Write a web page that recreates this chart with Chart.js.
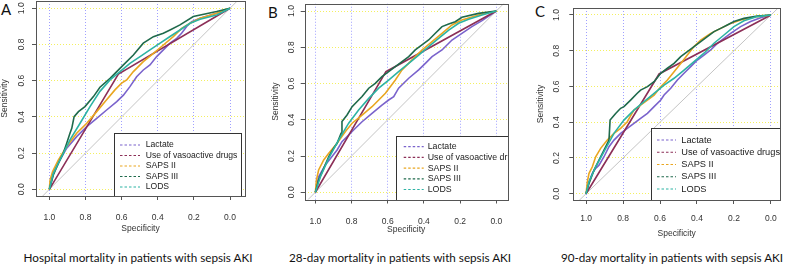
<!DOCTYPE html>
<html>
<head>
<meta charset="utf-8">
<script src="https://cdn.jsdelivr.net/npm/chart.js@4/dist/chart.umd.min.js"></script>
<style>
  body { margin: 0; background: #fff; width: 786px; height: 270px; overflow: hidden; position: relative; }
  canvas { position: absolute; top: 0; }
  .caption { position: absolute; width: 262px; text-align: center; font-family: Lato, sans-serif; font-size: 11.7px; color: #111; top: 250px; white-space: nowrap; }
  .letter { position: absolute; font-family: Lato, sans-serif; font-size: 15px; color: #111; top: 0px; }
</style>
</head>
<body>
<div class="letter" id="letter0" style="left:1px"></div>
<div class="letter" id="letter1" style="left:268px;top:3px"></div>
<div class="letter" id="letter2" style="left:535px;top:2px"></div>
<canvas id="chart0" width="262" height="240" style="left:0px"></canvas>
<canvas id="chart1" width="262" height="240" style="left:262px"></canvas>
<canvas id="chart2" width="262" height="240" style="left:524px"></canvas>
<div class="caption" id="caption0" style="left:7px"></div>
<div class="caption" id="caption1" style="left:269px"></div>
<div class="caption" id="caption2" style="left:541px"></div>
<script>
// ROC curves, points are [specificity, sensitivity]
var panelLetters = ['A', 'B', 'C']
var panelTitles = ['Hospital mortality in patients with sepsis AKI',
    '28-day mortality in patients with sepsis AKI',
    '90-day mortality in patients with sepsis AKI']
var seriesNames = ['Lactate', 'Use of vasoactive drugs', 'SAPS II', 'SAPS III', 'LODS']
var seriesColors = ['#7a63cc', '#8c2f57', '#e9a620', '#1f6a4c', '#2db3a4']
var tickValues = [0, 0.2, 0.4, 0.6, 0.8, 1.0]
var chanceLine = [[1.2, -0.2], [-0.2, 1.2]]

// hospital mortality
var hospLactate = [[1, 0], [0.978, 0.088], [0.941, 0.162], [0.904, 0.227], [0.849, 0.291], [0.793, 0.346], [0.738, 0.392], [0.683, 0.438], [0.627, 0.484], [0.59, 0.52], [0.554, 0.567], [0.517, 0.622], [0.48, 0.659], [0.443, 0.687], [0.406, 0.733], [0.369, 0.77], [0.332, 0.807], [0.295, 0.834], [0.268, 0.862], [0.24, 0.899], [0.212, 0.926], [0.166, 0.945], [0.074, 0.972], [0, 1]]
var hospVaso = [[1, 0], [0.618, 0.637], [0, 1]]
var hospSaps2 = [[1, 0], [0.996, 0.052], [0.982, 0.098], [0.95, 0.162], [0.904, 0.236], [0.849, 0.31], [0.793, 0.365], [0.738, 0.429], [0.683, 0.494], [0.637, 0.549], [0.6, 0.586], [0.572, 0.604], [0.535, 0.65], [0.48, 0.705], [0.424, 0.751], [0.369, 0.797], [0.314, 0.843], [0.268, 0.889], [0.221, 0.917], [0.166, 0.945], [0.074, 0.972], [0, 1]]
var hospSaps3 = [[1, 0], [0.978, 0.079], [0.95, 0.144], [0.923, 0.199], [0.904, 0.254], [0.886, 0.309], [0.876, 0.337], [0.863, 0.401], [0.839, 0.429], [0.803, 0.457], [0.756, 0.512], [0.72, 0.564], [0.664, 0.613], [0.627, 0.65], [0.59, 0.687], [0.535, 0.742], [0.48, 0.807], [0.424, 0.843], [0.369, 0.862], [0.332, 0.88], [0.277, 0.908], [0.203, 0.954], [0.074, 0.982], [0, 1]]
var hospLods = [[1, 0], [0.978, 0.088], [0.932, 0.18], [0.886, 0.273], [0.83, 0.365], [0.775, 0.457], [0.72, 0.541], [0.664, 0.604], [0.609, 0.65], [0.554, 0.696], [0.498, 0.733], [0.443, 0.77], [0.387, 0.807], [0.332, 0.844], [0.277, 0.88], [0.221, 0.917], [0.166, 0.939], [0.074, 0.963], [0, 1]]

// 28-day mortality
var d28Lactate = [[1, 0], [0.982, 0.086], [0.945, 0.151], [0.908, 0.197], [0.88, 0.233], [0.853, 0.279], [0.816, 0.316], [0.779, 0.353], [0.742, 0.389], [0.687, 0.435], [0.632, 0.481], [0.595, 0.509], [0.567, 0.527], [0.54, 0.574], [0.484, 0.629], [0.429, 0.675], [0.392, 0.711], [0.355, 0.748], [0.3, 0.785], [0.245, 0.84], [0.19, 0.877], [0.135, 0.914], [0.079, 0.947], [0, 1]]
var d28Vaso = [[1, 0], [0.61, 0.665], [0, 1]]
var d28Saps2 = [[1, 0], [0.994, 0.068], [0.982, 0.123], [0.954, 0.178], [0.926, 0.215], [0.88, 0.27], [0.834, 0.335], [0.797, 0.381], [0.742, 0.426], [0.687, 0.472], [0.65, 0.509], [0.613, 0.546], [0.586, 0.582], [0.558, 0.619], [0.521, 0.675], [0.466, 0.73], [0.411, 0.785], [0.355, 0.831], [0.3, 0.877], [0.245, 0.923], [0.19, 0.95], [0.098, 0.978], [0, 1]]
var d28Saps3 = [[1, 0], [0.982, 0.068], [0.954, 0.132], [0.926, 0.197], [0.899, 0.243], [0.88, 0.27], [0.858, 0.325], [0.853, 0.39], [0.825, 0.426], [0.797, 0.472], [0.761, 0.509], [0.742, 0.528], [0.705, 0.574], [0.669, 0.601], [0.632, 0.638], [0.595, 0.665], [0.558, 0.693], [0.521, 0.721], [0.484, 0.748], [0.448, 0.785], [0.411, 0.813], [0.374, 0.84], [0.337, 0.877], [0.3, 0.914], [0.263, 0.928], [0.227, 0.941], [0.19, 0.965], [0.098, 0.987], [0, 1]]
var d28Lods = [[1, 0], [0.972, 0.086], [0.926, 0.188], [0.871, 0.289], [0.816, 0.381], [0.761, 0.454], [0.705, 0.518], [0.65, 0.574], [0.595, 0.619], [0.54, 0.665], [0.484, 0.711], [0.429, 0.757], [0.374, 0.803], [0.319, 0.849], [0.263, 0.895], [0.208, 0.932], [0.153, 0.954], [0.079, 0.978], [0, 1]]

// 90-day mortality
var d90Lactate = [[1, 0], [0.984, 0.067], [0.966, 0.114], [0.948, 0.142], [0.93, 0.16], [0.903, 0.207], [0.876, 0.263], [0.849, 0.3], [0.813, 0.338], [0.777, 0.366], [0.741, 0.394], [0.705, 0.422], [0.668, 0.45], [0.632, 0.487], [0.596, 0.524], [0.578, 0.552], [0.542, 0.59], [0.506, 0.636], [0.47, 0.674], [0.434, 0.711], [0.398, 0.748], [0.362, 0.776], [0.326, 0.804], [0.29, 0.841], [0.254, 0.869], [0.218, 0.897], [0.164, 0.935], [0.11, 0.963], [0.056, 0.985], [0, 1]]
var d90Vaso = [[1, 0], [0.605, 0.67], [0, 1]]
var d90Saps2 = [[1, 0], [0.993, 0.067], [0.984, 0.114], [0.966, 0.151], [0.948, 0.207], [0.921, 0.254], [0.885, 0.3], [0.849, 0.338], [0.813, 0.366], [0.777, 0.403], [0.741, 0.468], [0.705, 0.496], [0.668, 0.524], [0.632, 0.552], [0.596, 0.599], [0.56, 0.636], [0.524, 0.683], [0.488, 0.729], [0.452, 0.776], [0.416, 0.823], [0.38, 0.86], [0.326, 0.897], [0.272, 0.925], [0.218, 0.953], [0.164, 0.972], [0.074, 0.991], [0, 1]]
var d90Saps3 = [[1, 0], [0.984, 0.058], [0.957, 0.132], [0.93, 0.188], [0.903, 0.244], [0.876, 0.3], [0.87, 0.412], [0.84, 0.449], [0.813, 0.478], [0.795, 0.487], [0.759, 0.524], [0.723, 0.562], [0.705, 0.58], [0.668, 0.599], [0.632, 0.627], [0.596, 0.674], [0.56, 0.702], [0.524, 0.729], [0.488, 0.767], [0.452, 0.795], [0.416, 0.823], [0.38, 0.851], [0.344, 0.879], [0.308, 0.907], [0.272, 0.925], [0.236, 0.944], [0.2, 0.963], [0.146, 0.981], [0.074, 0.994], [0, 1]]
var d90Lods = [[1, 0], [0.984, 0.067], [0.948, 0.151], [0.903, 0.235], [0.849, 0.338], [0.795, 0.412], [0.741, 0.468], [0.686, 0.515], [0.632, 0.562], [0.578, 0.608], [0.524, 0.646], [0.47, 0.692], [0.416, 0.739], [0.362, 0.786], [0.308, 0.842], [0.254, 0.888], [0.2, 0.935], [0.146, 0.968], [0.074, 0.991], [0, 1]]

var panelSeries = [
    [hospLactate, hospVaso, hospSaps2, hospSaps3, hospLods],
    [d28Lactate, d28Vaso, d28Saps2, d28Saps3, d28Lods],
    [d90Lactate, d90Vaso, d90Saps2, d90Saps3, d90Lods]
]

// layout of each panel, in canvas pixels
var layouts = [
    { box: [36, 1, 245, 196], xr: [-0.083, 1.074], yr: [-0.037, 1.04], pad: 0, yLab: 14.3, xLabY: 217, xTitleY: 228.5,
      legend: { x: 114, y: 133, w: 127, h: 63, row0: 145, dy: 10.5, font: 8.6, s0: 120, s1: 140, tx: 145.7 } },
    { box: [42.7, 3.75, 245.7, 199.5], xr: [-0.063, 1.059], yr: [-0.04, 1.04], pad: 8.2, yLab: 13.4, xLabY: 221.7, xTitleY: 230,
      legend: { x: 134.3, y: 136, w: 130, h: 64, row0: 146.7, dy: 10.7, font: 8.8, s0: 141.7, s1: 161.7, tx: 165.7 } },
    { box: [49.3, 8, 256, 200], xr: [-0.049, 1.069], yr: [-0.035, 1.039], pad: 11.6, yLab: 16.6, xLabY: 218.3, xTitleY: 233.3,
      legend: { x: 126.7, y: 128, w: 129.3, h: 72, row0: 140, dy: 12.25, font: 9.25, s0: 133, s1: 152, tx: 157.3 } }
]

var axisFont = { family: 'Liberation Sans', size: 8.5 }
var textColor = '#333'

var rocDecor = {
    id: 'rocDecor',
    afterDraw: function (chart, args, opts) {
        var ctx = chart.ctx
        var a = chart.chartArea
        var y = chart.scales.y
        var L = opts.legend

        // legend, clipped at the right side of the plot box
        ctx.save()
        ctx.beginPath()
        ctx.rect(0, 0, a.right + 0.5, chart.height)
        ctx.clip()
        ctx.fillStyle = '#fff'
        ctx.fillRect(L.x, L.y, L.w, L.h)
        ctx.strokeStyle = '#333'
        ctx.lineWidth = 1
        ctx.strokeRect(Math.round(L.x) + 0.5, Math.round(L.y) + 0.5, Math.round(L.w), Math.round(L.h))
        ctx.font = L.font + 'px "Liberation Sans"'
        ctx.textBaseline = 'middle'
        ctx.textAlign = 'left'
        var row = 0
        chart.data.datasets.forEach(function (ds) {
            if (!ds.label) return
            var ry = L.row0 + row * L.dy
            ctx.strokeStyle = ds.borderColor
            ctx.lineWidth = 1.2
            ctx.setLineDash([2.5, 2])
            ctx.beginPath()
            ctx.moveTo(L.s0, ry)
            ctx.lineTo(L.s1, ry)
            ctx.stroke()
            ctx.setLineDash([])
            ctx.fillStyle = '#222'
            ctx.fillText(ds.label, L.tx, ry)
            row++
        })
        ctx.restore()

        // plot box
        ctx.save()
        ctx.strokeStyle = '#555'
        ctx.lineWidth = 1
        ctx.strokeRect(Math.round(a.left) + 0.5, Math.round(a.top) + 0.5, Math.round(a.width), Math.round(a.height))

        // y tick labels are vertical, like base R
        ctx.font = axisFont.size + 'px "Liberation Sans"'
        ctx.fillStyle = textColor
        ctx.textAlign = 'center'
        ctx.textBaseline = 'middle'
        tickValues.forEach(function (v) {
            ctx.save()
            ctx.translate(a.left - opts.yLab, y.getPixelForValue(v))
            ctx.rotate(-Math.PI / 2)
            ctx.fillText(v.toFixed(1), 0, 0)
            ctx.restore()
        })
        ctx.restore()
    }
}

function makeTicks(scale) {
    scale.ticks = tickValues.map(function (v) { return { value: v } })
}

function createPanel(i) {
    var lay = layouts[i]
    var lh = axisFont.size * 1.2
    var xAxisH = lay.xTitleY + lh / 2 - lay.box[3]
    var canvas = document.getElementById('chart' + i)

    var datasets = seriesNames.map(function (name, k) {
        return {
            label: name,
            data: panelSeries[i][k].map(function (p) { return { x: p[0], y: p[1] } }),
            borderColor: seriesColors[k],
            borderWidth: 1.6,
            pointRadius: 0,
            tension: 0,
            order: 4 - k
        }
    })
    datasets.push({
        label: '',
        data: chanceLine.map(function (p) { return { x: p[0], y: p[1] } }),
        borderColor: '#c4c4c4',
        borderWidth: 1,
        pointRadius: 0,
        order: 10
    })

    new Chart(canvas.getContext('2d'), {
        type: 'line',
        data: { datasets: datasets },
        plugins: [rocDecor],
        options: {
            responsive: false,
            animation: false,
            events: [],
            layout: {
                padding: {
                    left: lay.pad,
                    top: lay.box[1],
                    right: canvas.width - lay.box[2],
                    bottom: canvas.height - lay.box[3] - xAxisH
                }
            },
            plugins: {
                legend: { display: false },
                tooltip: { enabled: false },
                rocDecor: { legend: lay.legend, yLab: lay.yLab }
            },
            scales: {
                x: {
                    type: 'linear',
                    reverse: true,
                    min: lay.xr[0],
                    max: lay.xr[1],
                    afterBuildTicks: makeTicks,
                    afterFit: function (s) { s.height = xAxisH },
                    grid: { color: '#a0a0ff', tickColor: '#555', tickLength: 4, tickBorderDash: [] },
                    border: { display: false, dash: [1, 2] },
                    ticks: {
                        font: axisFont,
                        color: textColor,
                        padding: lay.xLabY - 4.7 - lay.box[3] - 4,
                        maxRotation: 0,
                        autoSkip: false,
                        callback: function (v) { return v.toFixed(1) }
                    },
                    title: { display: true, text: 'Specificity', font: axisFont, color: textColor, padding: 0 }
                },
                y: {
                    type: 'linear',
                    min: lay.yr[0],
                    max: lay.yr[1],
                    afterBuildTicks: makeTicks,
                    afterFit: function (s) { s.width = lay.box[0] - lay.pad },
                    grid: { color: '#f4f060', tickColor: '#555', tickLength: 4, tickBorderDash: [] },
                    border: { display: false, dash: [1, 2] },
                    ticks: { display: false },
                    title: { display: true, text: 'Sensitivity', font: axisFont, color: textColor, padding: 0 }
                }
            }
        }
    })

    document.getElementById('letter' + i).textContent = panelLetters[i]
    document.getElementById('caption' + i).textContent = panelTitles[i]
}

for (var i = 0; i < 3; i++) {
    createPanel(i)
}
</script>
</body>
</html>
